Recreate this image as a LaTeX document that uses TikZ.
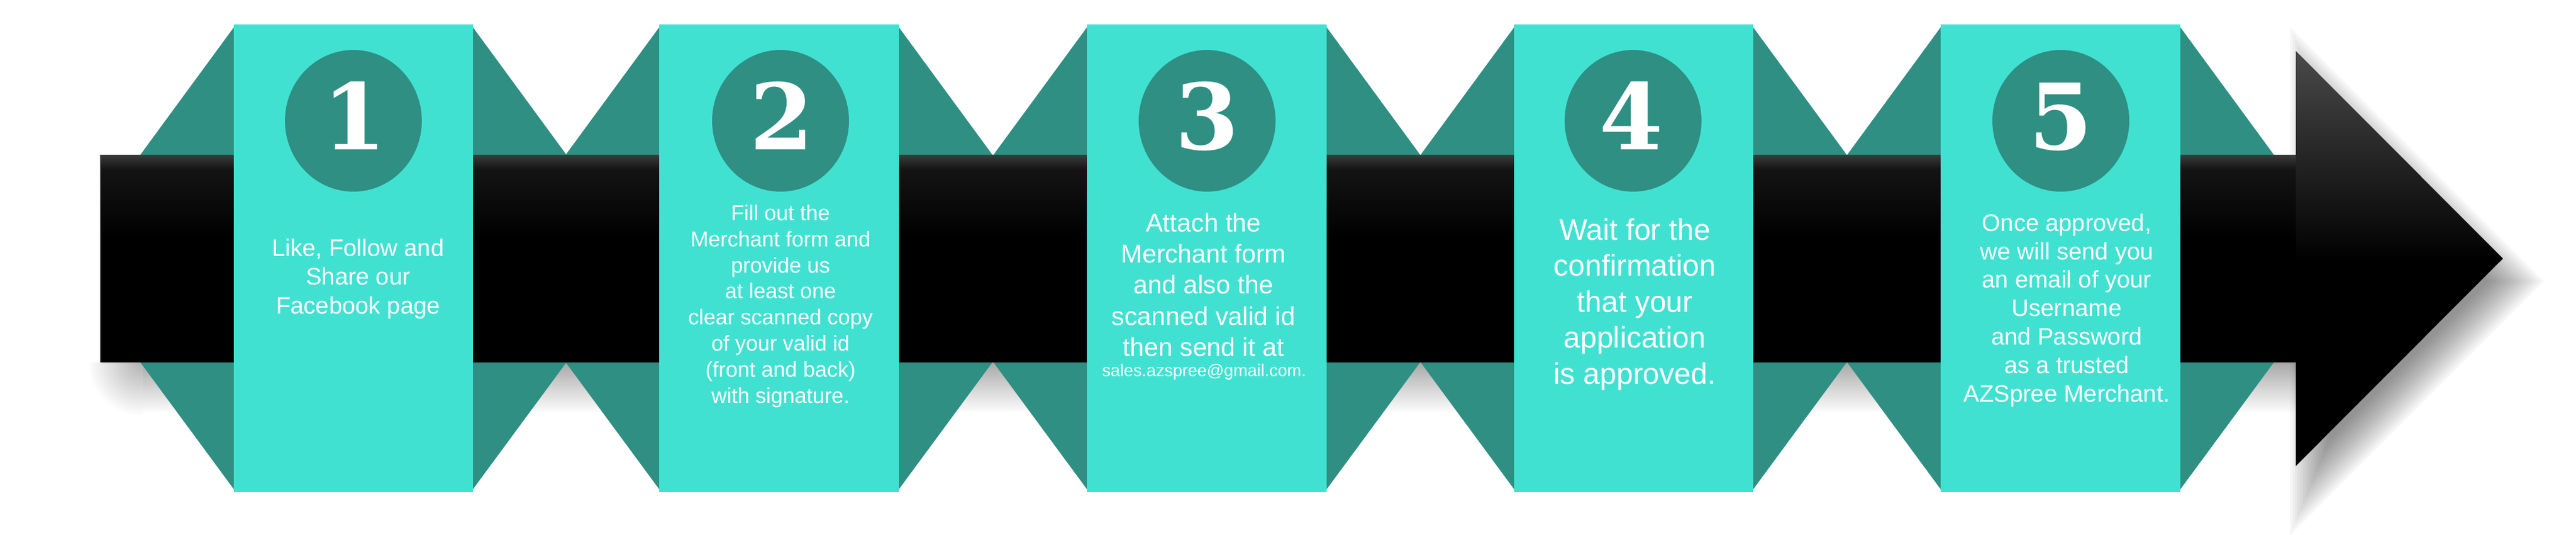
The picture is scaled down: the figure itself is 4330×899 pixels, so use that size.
\documentclass[tikz,border=0pt]{standalone}
\usepackage{fontspec}
\setmainfont{Liberation Sans}
\newfontfamily\numfont{DejaVu Serif}
\usetikzlibrary{shapes.geometric}
\definecolor{turq}{HTML}{41E1D2}
\definecolor{dteal}{HTML}{2E8F82}
\definecolor{barA}{HTML}{3C3C3C}
\definecolor{barB}{HTML}{141414}
\definecolor{headA}{HTML}{4A4A4A}
\tikzset{
  panel/.style={fill=turq},
  wing/.style={fill=dteal},
  badge/.style={ellipse, fill=dteal, inner sep=0pt, minimum width=230pt, minimum height=238pt},
  num/.style={text=white, inner sep=0pt, anchor=base, font=\numfont\bfseries\fontsize{154}{160}\selectfont},
  steptext/.style={text=white, align=center, inner sep=0pt, anchor=north},
}
\begin{document}
\begin{tikzpicture}[x=1pt,y=-1pt]
\useasboundingbox (0,0) rectangle (4330,899);
\fill[white] (0,0) rectangle (4330,899);
% shadows
\shade[top color=black!34, bottom color=white] (237,609) rectangle (3859,695);
\begin{scope}
  \clip (150,609) rectangle (240,720);
  \shade[inner color=black!30, outer color=white] (237,609) circle (90pt);
\end{scope}
\foreach \k in {1,...,16}{
  \pgfmathsetmacro\f{(109.2+4.375*(\k-0.5))/144.2}
  \fill[black, opacity=0.03] ({4026-144.2*\f},{472.5-348.5*\f}) -- ({4026+203.8*\f},472.5) -- ({4026-144.2*\f},{472.5+348.5*\f}) -- cycle;
}
% teal wings
\foreach \L/\R in {393/795, 1108/1511, 1827/2230, 2545/2947, 3262/3665}{
  \fill[wing] (\L,46) -- ({\L-157},260) -- (\L,260) -- cycle;
  \fill[wing] (\R,46) -- ({\R+157},260) -- (\R,260) -- cycle;
  \fill[wing] (\L,822) -- ({\L-157},609) -- (\L,609) -- cycle;
  \fill[wing] (\R,822) -- ({\R+157},609) -- (\R,609) -- cycle;
}
% bar
\fill[black] (168,260) rectangle (3860,609);
\shade[top color=barA, bottom color=barB] (168,260) rectangle (3860,284);
\shade[top color=barB, bottom color=black] (168,284) rectangle (3860,400);
\draw[black!65, line width=2pt] (169,260) -- (169,609);
% head
\fill[black] (3859,86) -- (4207,434.5) -- (3859,783) -- cycle;
\begin{scope}
  \clip (3859,86) -- (4207,434.5) -- (3859,783) -- cycle;
  \shade[top color=headA, bottom color=black] (3859,86) rectangle (4210,440);
\end{scope}
% panels
\foreach \L/\R in {393/795, 1108/1511, 1827/2230, 2545/2947, 3262/3665}{
  \fill[panel] (\L,41) rectangle (\R,827);
}
% badges and numbers
\node[badge] (b1) at (594,203) {};
\node[badge] (b2) at (1312,203) {};
\node[badge] (b3) at (2029,203) {};
\node[badge] (b4) at (2745,203) {};
\node[badge] (b5) at (3464,203) {};
\node[num] (n1) at (596,251) {1};
\node[num] (n2) at (1314,251) {2};
\node[num] (n3) at (2029,251) {3};
\node[num] (n4) at (2742,251) {4};
\node[num] (n5) at (3464,251) {5};
% texts
\node[steptext, font=\fontsize{40}{48.7}\selectfont] (t1) at (602,401)
  {Like, Follow and\\Share our\\Facebook page};
\node[steptext, font=\fontsize{36}{43.9}\selectfont] (t2) at (1312,344)
  {Fill out the\\Merchant form and\\provide us\\at least one\\clear scanned copy\\of your valid id\\(front and back)\\with signature.};
\node[steptext, font=\fontsize{43}{52.3}\selectfont] (t3) at (2023,358)
  {Attach the\\Merchant form\\and also the\\scanned valid id\\then send it at};
\node[text=white, inner sep=0pt, anchor=base, font=\fontsize{28.5}{34}\selectfont] (mail) at (2024,632)
  {sales.azspree@gmail.com.};
\node[steptext, font=\fontsize{50}{60.5}\selectfont] (t4) at (2748,367)
  {Wait for the\\confirmation\\that your\\application\\is approved.};
\node[steptext, font=\fontsize{40}{47.9}\selectfont] (t5) at (3474,359)
  {Once approved,\\we will send you\\an email of your\\Username\\and Password\\as a trusted\\AZSpree Merchant.};
\end{tikzpicture}
\end{document}
